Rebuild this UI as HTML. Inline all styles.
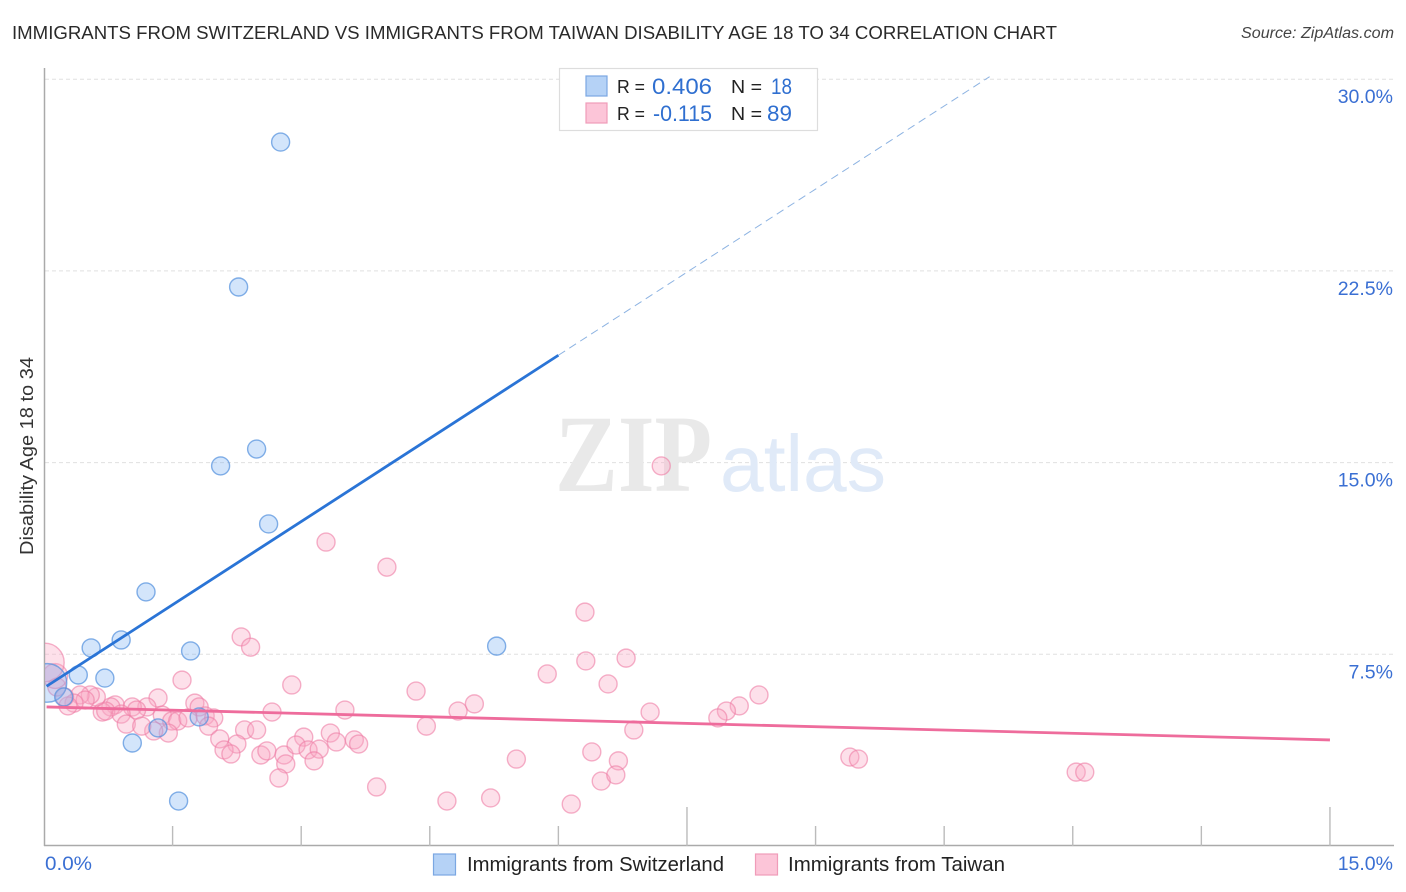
<!DOCTYPE html>
<html lang="en">
<head>
<meta charset="utf-8">
<title>Immigrants from Switzerland vs Immigrants from Taiwan Disability Age 18 to 34 Correlation Chart</title>
<style>
html,body{margin:0;padding:0;background:#fff;width:1406px;height:892px;overflow:hidden}
svg{display:block;font-family:"Liberation Sans",sans-serif}
</style>
</head>
<body>
<svg id="chart" xmlns="http://www.w3.org/2000/svg" width="1406" height="892" viewBox="0 0 1406 892">
  <defs>
    <clipPath id="plot-clip"><rect x="45" y="60" width="1349" height="786"/></clipPath>
  </defs>
  <text x="12" y="39" font-size="18.5" fill="#2a2a2a" textLength="1045" lengthAdjust="spacingAndGlyphs">IMMIGRANTS FROM SWITZERLAND VS IMMIGRANTS FROM TAIWAN DISABILITY AGE 18 TO 34 CORRELATION CHART</text>
  <text x="1394" y="38" font-size="15.5" font-style="italic" fill="#444" text-anchor="end" textLength="153" lengthAdjust="spacingAndGlyphs">Source: ZipAtlas.com</text>
  <text transform="translate(33 456) rotate(-90)" font-size="18" fill="#333" text-anchor="middle" textLength="198" lengthAdjust="spacingAndGlyphs">Disability Age 18 to 34</text>

  <g id="grid"></g>
  <g>
    <text x="555" y="491" font-family="'Liberation Serif',serif" font-weight="bold" font-size="110" fill="#e9e9e9" textLength="157" lengthAdjust="spacingAndGlyphs">ZIP</text>
    <text x="720" y="491" font-size="80" fill="#e0eaf8" textLength="166" lengthAdjust="spacingAndGlyphs">atlas</text>
  </g>
  <g id="axes"></g>
  <g id="points" clip-path="url(#plot-clip)"></g>
  <g id="trends"></g>
  <g id="labels"></g>

  <g>
    <rect x="559.5" y="68.5" width="258" height="62" fill="#fff" stroke="#ddd" stroke-width="1.2"/>
    <rect x="586" y="76" width="21" height="20" fill="#b5d2f6" stroke="#7ba7e2" stroke-width="1.2"/>
    <rect x="586" y="103" width="21" height="20" fill="#fcc5d8" stroke="#f09cb9" stroke-width="1.2"/>
    <g font-size="18.5" fill="#222">
      <text x="617" y="93" textLength="28" lengthAdjust="spacingAndGlyphs">R =</text>
      <text x="731" y="93" textLength="31" lengthAdjust="spacingAndGlyphs">N =</text>
      <text x="617" y="120" textLength="28" lengthAdjust="spacingAndGlyphs">R =</text>
      <text x="731" y="120" textLength="31" lengthAdjust="spacingAndGlyphs">N =</text>
    </g>
    <g font-size="22" fill="#2f6fd0">
      <text x="652" y="94" textLength="60" lengthAdjust="spacingAndGlyphs">0.406</text>
      <text x="771" y="94" textLength="21" lengthAdjust="spacingAndGlyphs">18</text>
      <text x="653" y="121" textLength="59" lengthAdjust="spacingAndGlyphs">-0.115</text>
      <text x="767" y="121" textLength="25" lengthAdjust="spacingAndGlyphs">89</text>
    </g>
  </g>

  <g>
    <rect x="433.5" y="854" width="22" height="21" fill="#b5d2f6" stroke="#7ba7e2" stroke-width="1.2"/>
    <text x="467" y="871" font-size="20" fill="#222" textLength="257" lengthAdjust="spacingAndGlyphs">Immigrants from Switzerland</text>
    <rect x="755.5" y="854" width="22" height="21" fill="#fcc5d8" stroke="#f09cb9" stroke-width="1.2"/>
    <text x="788" y="871" font-size="20" fill="#222" textLength="217" lengthAdjust="spacingAndGlyphs">Immigrants from Taiwan</text>
  </g>
</svg>
<script>
const yGridValues = [7.5, 15, 22.5, 30];
const yTickLabels = ["7.5%", "15.0%", "22.5%", "30.0%"];
const xTickValues = [1.5, 3, 4.5, 6, 7.5, 9, 10.5, 12, 13.5, 15];
const xMajorTicks = [7.5, 15];
const xEndLabels = ["0.0%", "15.0%"];

const blueX = [2.76,2.27,2.48,2.06,2.62,1.19,0.90,0.55,1.71,5.28,0.40,0.71,0.04,0.23,1.81,1.33,1.03,1.57];
const blueY = [27.54,21.87,15.53,14.87,12.60,9.94,8.06,7.75,7.63,7.82,6.69,6.57,6.38,5.83,5.05,4.62,4.03,1.76];
const blueWeight = [1,1,1,1,1,1,1,1,1,1,1,1,4.6,1,1,1,1,1];

const pinkX = [7.20,3.29,4.00,6.31,2.30,2.41,6.32,6.79,5.87,6.58,1.61,2.89,4.34,5.02,8.34,8.11,7.96,7.86,7.07,6.88,4.83,4.46,3.51,2.66,1.33,1.76,1.81,1.20,1.38,1.49,1.56,1.68,1.88,1.98,1.92,1.45,1.28,1.03,1.08,0.83,0.78,0.68,0.72,0.90,0.96,1.14,0.61,0.54,0.42,0.48,0.35,0.28,0.24,0.15,0.13,0.01,2.34,2.48,2.05,2.25,2.10,2.18,2.53,2.60,2.80,2.82,2.74,3.03,2.94,3.08,3.21,3.15,3.34,3.41,3.62,3.67,3.88,4.70,5.21,5.51,6.15,6.39,6.70,6.50,6.67,9.40,9.50,12.04,12.14];
const pinkY = [14.87,11.89,10.91,9.15,8.18,7.78,7.24,7.35,6.73,6.34,6.49,6.30,6.06,5.56,5.91,5.48,5.28,5.01,5.24,4.54,5.28,4.69,5.32,5.24,5.79,5.59,5.44,5.44,5.12,4.89,4.89,5.01,5.09,5.01,4.69,4.42,4.50,5.44,5.32,5.52,5.44,5.24,5.28,5.16,4.77,4.69,5.83,5.91,5.91,5.71,5.59,5.48,5.83,6.22,6.65,7.18,4.54,4.54,4.19,3.99,3.76,3.60,3.56,3.72,3.56,3.21,2.66,4.26,3.95,3.76,3.79,3.33,4.42,4.07,4.15,3.99,2.31,1.76,1.88,3.40,1.64,3.68,3.33,2.54,2.78,3.48,3.40,2.89,2.89];
const pinkWeight = [
  1,1,1,1,1,1,1,1,1,1,
  1,1,1,1,1,1,1,1,1,1,
  1,1,1,1,1,1,1,1,1,1,
  1,1,1,1,1,1,1,1,1,1,
  1,1,1,1,1,1,1,1,1,1,
  1,1,1,1,1.9,4.6,1,1,1,1,
  1,1,1,1,1,1,1,1,1,1,
  1,1,1,1,1,1,1,1,1,1,
  1,1,1,1,1,1,1,1,1
];

const blueTrendX = [0.03, 6.0];
const blueTrendY = [6.25, 19.2];
const blueTrendExtX = [6.0, 11.03];
const blueTrendExtY = [19.2, 30.1];
const pinkTrendX = [0.03, 15];
const pinkTrendY = [5.44, 4.15];

const X0 = 44, PX_PER_X = 85.73, Y0 = 846, PX_PER_Y = 25.56, BASE_R = 9;
function xScale(v) { return X0 + v * PX_PER_X; }
function yScale(v) { return Y0 - v * PX_PER_Y; }
const NS = "http://www.w3.org/2000/svg";
function make(tag, parent, attrs) {
  const el = document.createElementNS(NS, tag);
  for (const k in attrs) el.setAttribute(k, attrs[k]);
  parent.appendChild(el);
  return el;
}

const grid = document.getElementById("grid");
const axes = document.getElementById("axes");
const labels = document.getElementById("labels");
const pts = document.getElementById("points");
const trends = document.getElementById("trends");

yGridValues.forEach(function (v, i) {
  const y = yScale(v);
  const line = make("line", grid, { x1: 45, x2: 1394, y1: y, y2: y, stroke: "#e0e0e0", "stroke-width": 1, "stroke-dasharray": "4 3" });
  
  
  const t = make("text", labels, { x: 1393, y: y + 24, "font-size": 19.5, fill: "#3a6fd3", "text-anchor": "end" });
  t.textContent = yTickLabels[i];
  
  
});

const yAxis = make("line", axes, { x1: 44.5, x2: 44.5, y1: 68, y2: 846, stroke: "#aaa", "stroke-width": 1.5 });


const xAxis = make("line", axes, { x1: 44, x2: 1394, y1: 845.5, y2: 845.5, stroke: "#aaa", "stroke-width": 1.5 });


xTickValues.forEach(function (v) {
  const x = xScale(v);
  const top = xMajorTicks.indexOf(v) >= 0 ? 807 : 826;
  const tick = make("line", axes, { x1: x, x2: x, y1: top, y2: 846, stroke: "#bbb", "stroke-width": 1.4 });
  
  
});

const xLabelLeft = make("text", labels, { x: 45, y: 870, "font-size": 19.5, fill: "#3a6fd3", textLength: 47, lengthAdjust: "spacingAndGlyphs" });
xLabelLeft.textContent = xEndLabels[0];


const xLabelRight = make("text", labels, { x: 1393, y: 870, "font-size": 19.5, fill: "#3a6fd3", "text-anchor": "end" });
xLabelRight.textContent = xEndLabels[1];



pinkX.forEach(function (v, i) {
  const c = make("circle", pts, { cx: xScale(v), cy: yScale(pinkY[i]), r: BASE_R * Math.sqrt(pinkWeight[i]), fill: "rgba(250,170,198,0.36)", stroke: "rgba(238,125,165,0.6)", "stroke-width": 1.4 });
  
  
});
blueX.forEach(function (v, i) {
  const c = make("circle", pts, { cx: xScale(v), cy: yScale(blueY[i]), r: BASE_R * Math.sqrt(blueWeight[i]), fill: "rgba(125,178,242,0.34)", stroke: "rgba(85,145,222,0.72)", "stroke-width": 1.4 });
  
  
});

const pinkTrend = make("line", trends, { x1: xScale(pinkTrendX[0]), y1: yScale(pinkTrendY[0]), x2: xScale(pinkTrendX[1]), y2: yScale(pinkTrendY[1]), stroke: "#ee6c9c", "stroke-width": 2.8 });


const blueExt = make("line", trends, { x1: xScale(blueTrendExtX[0]), y1: yScale(blueTrendExtY[0]), x2: xScale(blueTrendExtX[1]), y2: yScale(blueTrendExtY[1]), stroke: "#8db3e2", "stroke-width": 1, "stroke-dasharray": "8 5" });


const blueTrend = make("line", trends, { x1: xScale(blueTrendX[0]), y1: yScale(blueTrendY[0]), x2: xScale(blueTrendX[1]), y2: yScale(blueTrendY[1]), stroke: "#2a74d6", "stroke-width": 2.8 });


</script>
</body>
</html>
